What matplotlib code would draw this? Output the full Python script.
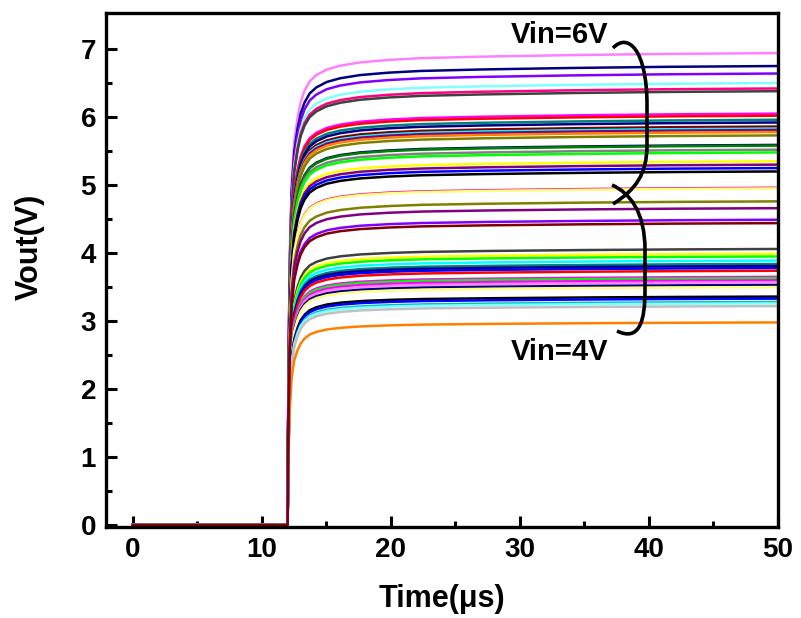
import numpy as np
import matplotlib
matplotlib.use('Agg')
import matplotlib.pyplot as plt
from matplotlib.path import Path
from matplotlib.patches import PathPatch

plt.rcParams['font.family'] = ['Liberation Sans', 'DejaVu Sans']
plt.rcParams['font.weight'] = 'bold'

# normalised step response (fraction of final value)
shape_t = [0, 12.0, 12.05, 12.15, 12.3, 12.5, 12.75, 13.0, 13.3, 13.7, 14.2, 15.0,
           16.0, 17.5, 19.5, 22.0, 26.0, 32.0, 40.0, 50.0]
shape_f = [0, 0.0, 0.3, 0.55, 0.72, 0.81, 0.86, 0.895, 0.92, 0.94, 0.953, 0.965,
           0.973, 0.98, 0.985, 0.989, 0.992, 0.995, 0.998, 1.0]

# final Vout of each trace (V) and its colour
final_v = [6.94, 6.75, 6.64, 6.50, 6.42, 6.38,
           6.05, 6.02, 5.96, 5.92, 5.86, 5.83, 5.81, 5.78, 5.73,
           5.59, 5.58, 5.52, 5.48, 5.35, 5.30, 5.25, 5.20,
           4.96, 4.95, 4.76, 4.66, 4.06, 3.99, 3.95, 3.89, 3.84, 3.81,
           3.78, 3.74, 3.65, 3.63, 3.60, 3.57, 3.53, 3.50,
           3.36, 3.33, 3.28, 3.26, 3.22, 2.98, 4.49, 4.44]
colors = ['#FF80FF', '#000080', '#8000FF', '#80FFFF', '#FF0080', '#404040',
          '#FF00FF', '#FF0000', '#008080', '#000080', '#800000', '#00FFFF', '#800080', '#FF8000', '#808000',
          '#000080', '#008000', '#808080', '#00FF00', '#FFFF00', '#800080', '#0000FF', '#000000',
          '#FF0080', '#FFFF80', '#808000', '#800080', '#404040', '#FFFF00', '#00FF00', '#00FFFF', '#008080', '#000080',
          '#0000FF', '#FF0000', '#FF00FF', '#00FF00', '#FF00FF', '#FF80FF', '#000080', '#FFFF80',
          '#000000', '#0000FF', '#00C0C0', '#80FFFF', '#C0C0C0', '#FF8000', '#8000FF', '#800000']

fig = plt.figure(figsize=(8.01, 6.18), dpi=100)
ax = fig.add_axes([0.132, 0.147, 0.839, 0.832])

t = np.linspace(0, 50, 4001)
frac = np.interp(t, shape_t, shape_f)
for v, c in zip(final_v, colors):
    ax.plot(t, v * frac, color=c, lw=1.8)

ax.set_xlim(-2.1, 50)
ax.set_ylim(-0.03, 7.53)
ax.set_xticks(range(0, 51, 10))
ax.set_xticks(range(5, 50, 10), minor=True)
ax.set_yticks(range(0, 8))
ax.set_yticks(np.arange(0.5, 7.5, 1.0), minor=True)
ax.tick_params(which='both', direction='in', width=2.2, labelsize=20, pad=7)
ax.tick_params(which='major', length=8)
ax.tick_params(which='minor', length=4)
for s in ax.spines.values():
    s.set_linewidth(2.4)
for lab in ax.get_xticklabels() + ax.get_yticklabels():
    lab.set_fontweight('bold')

ax.set_xlabel('Time(μs)', fontsize=22, fontweight='bold')
ax.set_ylabel('Vout(V)', fontsize=22, fontweight='bold')
ax.xaxis.set_label_coords(0.5, -0.11)
ax.yaxis.set_label_coords(-0.09, 0.545)

ax.text(33.1, 7.2, 'Vin=6V', fontsize=21, fontweight='bold', ha='center', va='center')
ax.text(33.1, 2.54, 'Vin=4V', fontsize=21, fontweight='bold', ha='center', va='center')

# the two brackets, in figure pixel coordinates
W, H = 801.0, 618.0
def px(pts):
    return [(x / W, 1 - y / H) for x, y in pts]

upper = [(613, 48), (628, 32), (647, 50), (647, 105),
         (647, 145), (647, 175), (635, 190), (613, 204)]
lower = [(612, 185), (630, 193), (645, 212), (645, 250),
         (645, 290), (645, 320), (640, 342), (617, 331)]
codes = [Path.MOVETO, Path.CURVE4, Path.CURVE4, Path.CURVE4,
         Path.LINETO, Path.CURVE4, Path.CURVE4, Path.CURVE4]
for pts in (upper, lower):
    patch = PathPatch(Path(px(pts), codes), transform=fig.transFigure,
                      fill=False, lw=2.6, color='black', clip_on=False)
    fig.patches.append(patch)

fig.savefig('out.png', dpi=100)
